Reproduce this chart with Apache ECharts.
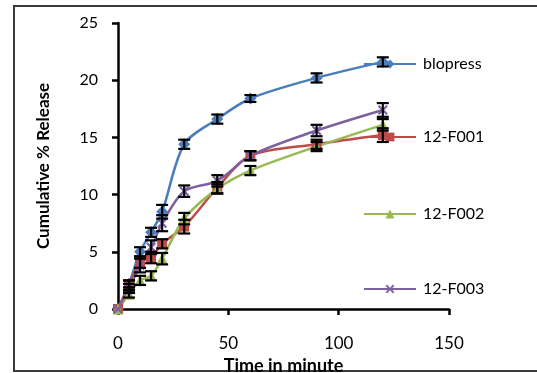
<!DOCTYPE html>
<html>
<head>
<meta charset="utf-8">
<script src="https://cdn.jsdelivr.net/npm/echarts@6/dist/echarts.min.js"></script>
<style>
  html, body { margin: 0; padding: 0; background: #fff; }
  #mychart { width: 537px; height: 373px; }
</style>
</head>
<body>
<div id="mychart"></div>
<script>
// time points (minutes)
var times = [0, 5, 10, 15, 20, 30, 45, 60, 90, 120];
// cumulative % release
var blopress = [0, 2.2, 5.0, 6.7, 8.5, 14.4, 16.6, 18.4, 20.2, 21.6];
var f001 = [0, 2.1, 4.1, 4.5, 5.7, 7.2, 10.6, 13.4, 14.4, 15.2];
var f002 = [0, 1.3, 2.5, 2.9, 4.4, 7.9, 10.5, 12.1, 14.2, 16.1];
var f003 = [0, 1.8, 3.8, 5.4, 7.5, 10.3, 11.2, 13.4, 15.6, 17.4];
// error (+/-)
var errBlopress = [0, 0.3, 0.4, 0.4, 0.6, 0.4, 0.4, 0.3, 0.4, 0.4];
var errF001 = [0, 0.4, 0.5, 0.5, 0.4, 0.6, 0.5, 0.4, 0.4, 0.6];
var errF002 = [0, 0.3, 0.4, 0.4, 0.5, 0.5, 0.4, 0.4, 0.4, 0.5];
var errF003 = [0, 0.4, 0.6, 0.6, 0.7, 0.5, 0.5, 0.4, 0.5, 0.6];
var names = ['blopress', '12-F001', '12-F002', '12-F003'];
var xTicks = [0, 50, 100, 150];
var yTicks = [0, 5, 10, 15, 20, 25];

var myChart = echarts.init(document.getElementById('mychart'));
var font = 'Lato';
var xSym = 'path://M0,1.5L1.5,0L5,3.5L8.5,0L10,1.5L6.5,5L10,8.5L8.5,10L5,6.5L1.5,10L0,8.5L3.5,5Z';

function pairs(vals) {
    var out = [];
    for (var i = 0; i < times.length; i++) out.push([times[i], vals[i]]);
    return out;
}
function errData(vals, errs) {
    var out = [];
    for (var i = 0; i < times.length; i++) out.push([times[i], vals[i], errs[i]]);
    return out;
}
function renderErr(params, api) {
    var x = api.value(0), y = api.value(1), e = api.value(2);
    if (!e) return null;
    var hi = api.coord([x, y + e]);
    var lo = api.coord([x, y - e]);
    var w = 6;
    var st = { stroke: '#000', lineWidth: 2.2 };
    return {
        type: 'group',
        children: [
            { type: 'line', shape: { x1: hi[0], y1: hi[1], x2: lo[0], y2: lo[1] }, style: st },
            { type: 'line', shape: { x1: hi[0] - w, y1: hi[1], x2: hi[0] + w, y2: hi[1] }, style: st },
            { type: 'line', shape: { x1: lo[0] - w, y1: lo[1], x2: lo[0] + w, y2: lo[1] }, style: st }
        ]
    };
}
function lineSeries(name, vals, color, symbol, size) {
    return {
        name: name,
        type: 'line',
        smooth: 0.3,
        data: pairs(vals),
        symbol: symbol,
        symbolSize: size,
        showAllSymbol: true,
        lineStyle: { color: color, width: 2.5 },
        itemStyle: { color: color },
        z: 3,
        animation: false
    };
}
function errSeries(vals, errs) {
    return {
        type: 'custom',
        renderItem: renderErr,
        data: errData(vals, errs),
        encode: { x: 0, y: 1 },
        z: 5,
        silent: true,
        animation: false
    };
}
function legendAt(name, top) {
    return {
        data: [name],
        left: 358,
        top: top,
        itemWidth: 52,
        itemHeight: 11,
        itemGap: 0,
        selectedMode: false,
        textStyle: { fontFamily: font, fontSize: 16, color: '#000', padding: [0, 0, 0, 2] }
    };
}

var option = {
    backgroundColor: '#fff',
    graphic: [{
        type: 'rect',
        shape: { x: 14, y: 6, width: 540, height: 365 },
        style: { fill: 'none', stroke: '#3a3a3a', lineWidth: 2 },
        silent: true
    }],
    legend: [
        legendAt(names[0], 51),
        legendAt(names[1], 124),
        legendAt(names[2], 201),
        legendAt(names[3], 276)
    ],
    grid: { left: 118, top: 23, width: 331, height: 286, outerBoundsMode: 'none', containLabel: false },
    xAxis: {
        type: 'value',
        min: xTicks[0], max: xTicks[xTicks.length - 1], interval: 50,
        name: 'Time in minute',
        nameLocation: 'middle',
        nameGap: 34,
        nameTextStyle: { fontFamily: font, fontSize: 18, fontWeight: 'bold', color: '#000' },
        axisLine: { onZero: false, lineStyle: { color: '#000', width: 2.5 } },
        axisTick: { show: true, inside: false, length: 6, lineStyle: { color: '#000', width: 2.5 } },
        axisLabel: { fontFamily: font, fontSize: 17, color: '#000', margin: 26 },
        splitLine: { show: false }
    },
    yAxis: {
        type: 'value',
        min: yTicks[0], max: yTicks[yTicks.length - 1], interval: 5,
        name: 'Cumulative % Release',
        nameLocation: 'middle',
        nameGap: 66,
        nameTextStyle: { fontFamily: font, fontSize: 17, fontWeight: 'bold', color: '#000' },
        axisLine: { lineStyle: { color: '#000', width: 2.5 } },
        axisTick: { show: true, inside: false, length: 6, lineStyle: { color: '#000', width: 2.5 } },
        axisLabel: { fontFamily: font, fontSize: 16, color: '#000', margin: 20 },
        splitLine: { show: false }
    },
    series: [
        lineSeries(names[0], blopress, '#4a7ebb', 'diamond', 12),
        lineSeries(names[1], f001, '#be4b48', 'rect', 10),
        lineSeries(names[2], f002, '#98b954', 'triangle', 11),
        lineSeries(names[3], f003, '#7d60a0', xSym, 10),
        errSeries(blopress, errBlopress),
        errSeries(f001, errF001),
        errSeries(f002, errF002),
        errSeries(f003, errF003)
    ]
};

if (option && typeof option === "object") {
    myChart.setOption(option, true);
}
</script>
</body>
</html>
